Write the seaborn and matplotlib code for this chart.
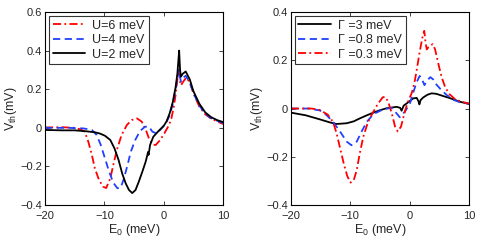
import numpy as np
import pandas as pd
import seaborn as sns
import matplotlib.pyplot as plt

# Left panel: thermovoltage for different U
e_u2 = [-20, -17, -15, -13, -11.6, -10.7, -9.9, -9.0, -8.3, -7.6, -7.0, -6.4, -5.85, -5.3,
        -4.75, -4.2, -3.6, -3.05, -2.75, -2.65, -2.55, -2.45, -2.3, -1.75, -0.9, 0, 0.5, 1.0,
        1.5, 2.0, 2.3, 2.5, 2.6, 2.75, 2.9, 3.2, 3.7, 4.4, 5.0, 6.0, 7.0, 8.0, 9.0, 10]
v_u2 = [-0.011, -0.013, -0.013, -0.018, -0.023, -0.03, -0.041, -0.063, -0.106, -0.167, -0.236,
        -0.288, -0.322, -0.338, -0.322, -0.279, -0.227, -0.176, -0.14, -0.125, -0.14, -0.12,
        -0.089, -0.046, -0.017, 0.01, 0.035, 0.075, 0.13, 0.21, 0.28, 0.36, 0.40, 0.30, 0.265,
        0.28, 0.292, 0.25, 0.19, 0.125, 0.08, 0.055, 0.04, 0.03]

e_u4 = [-20, -16, -13.5, -12.1, -11.3, -10.6, -9.9, -9.2, -8.5, -7.8, -7.25, -6.7, -6.1, -5.55,
        -4.8, -4.0, -3.15, -2.5, -1.9, -1.2, -0.35, 0.5, 1.0, 1.5, 2.0, 2.3, 2.5, 2.7, 2.9,
        3.3, 3.7, 4.4, 5.0, 6.0, 7.0, 8.0, 9.0, 10]
v_u4 = [0.0, 0.0, -0.003, -0.011, -0.037, -0.089, -0.158, -0.227, -0.284, -0.313, -0.31,
        -0.262, -0.193, -0.124, -0.063, -0.017, 0.006, 0.006, -0.02, -0.029, -0.003, 0.032,
        0.065, 0.12, 0.20, 0.26, 0.30, 0.27, 0.24, 0.26, 0.27, 0.235, 0.18, 0.115, 0.073,
        0.05, 0.037, 0.025]

e_u6 = [-20, -17, -15, -14, -13.3, -12.7, -12.1, -11.6, -10.9, -10.2, -9.7, -9.0, -8.5, -7.9,
        -7.1, -6.2, -5.4, -4.5, -3.7, -3.0, -2.5, -1.9, -1.35, -0.6, 0.1, 0.9, 1.3, 1.7, 2.0,
        2.3, 2.5, 2.7, 2.9, 3.3, 3.8, 4.4, 5.0, 6.0, 7.0, 8.0, 9.0, 10]
v_u6 = [0.002, 0.003, 0.0, -0.008, -0.02, -0.072, -0.141, -0.21, -0.27, -0.305, -0.312,
        -0.262, -0.193, -0.115, -0.037, 0.015, 0.04, 0.049, 0.032, -0.011, -0.054, -0.086,
        -0.089, -0.063, -0.029, 0.015, 0.05, 0.11, 0.17, 0.25, 0.30, 0.25, 0.22, 0.24, 0.26,
        0.235, 0.18, 0.11, 0.07, 0.047, 0.033, 0.02]

# Right panel: thermovoltage for different Gamma
e_g3 = [-20, -17.5, -15.1, -13.5, -12.3, -10.6, -9.4, -8.4, -7.2, -6.1, -5, -3.9, -2.2, -1.6,
        -1.35, -1.0, -0.5, 0.6, 1.2, 1.5, 1.65, 1.85, 2.3, 3.0, 3.7, 4.5, 5.5, 6.8, 8.5, 10]
v_g3 = [-0.017, -0.028, -0.045, -0.057, -0.064, -0.061, -0.053, -0.041, -0.028, -0.017,
        -0.007, 0.001, 0.007, 0.003, -0.009, 0.012, 0.021, 0.042, 0.044, 0.03, 0.017, 0.035,
        0.046, 0.057, 0.063, 0.061, 0.053, 0.043, 0.028, 0.019]

e_g08 = [-20, -17, -15.1, -14, -12.9, -11.7, -10.6, -9.8, -8.9, -8.1, -7.2, -6.1, -4.4, -3.0,
         -2.2, -1.65, -0.8, 0.06, 0.6, 1.2, 1.7, 2.0, 2.5, 2.9, 3.5, 4.0, 4.5, 5.4, 6.3, 7.5,
         8.5, 10]
v_g08 = [0.0, 0.0, -0.008, -0.027, -0.055, -0.096, -0.137, -0.152, -0.137, -0.096, -0.055,
         -0.023, -0.003, 0.003, -0.02, -0.036, -0.013, 0.021, 0.065, 0.11, 0.135, 0.125, 0.097,
         0.115, 0.13, 0.12, 0.10, 0.075, 0.055, 0.035, 0.026, 0.02]

e_g03 = [-20, -16.5, -15.1, -13.8, -12.9, -12.3, -11.7, -11.1, -10.5, -9.95, -9.4, -8.9, -8.4,
         -7.8, -7.0, -6.1, -5.3, -4.55, -4.15, -3.6, -3.0, -2.45, -2.0, -1.45, -0.95, -0.4,
         0.34, 0.6, 0.9, 1.2, 1.7, 2.2, 2.47, 2.7, 2.9, 3.2, 3.9, 4.3, 4.8, 5.4, 6.0, 6.7,
         7.5, 8.5, 10]
v_g03 = [0.0, 0.0, -0.006, -0.025, -0.055, -0.103, -0.165, -0.227, -0.28, -0.307, -0.296,
         -0.255, -0.186, -0.117, -0.055, -0.013, 0.021, 0.046, 0.049, 0.028, -0.02, -0.075,
         -0.095, -0.075, -0.027, 0.021, 0.063, 0.085, 0.118, 0.16, 0.235, 0.30, 0.322, 0.27,
         0.245, 0.255, 0.267, 0.245, 0.19, 0.13, 0.088, 0.06, 0.042, 0.03, 0.02]

sns.set_style('ticks')
plt.rcParams['font.family'] = ['Liberation Sans', 'DejaVu Sans']
plt.rcParams['mathtext.fontset'] = 'custom'
plt.rcParams['mathtext.rm'] = 'Liberation Sans'
plt.rcParams['mathtext.it'] = 'Liberation Sans'
plt.rcParams['font.size'] = 8

RED = '#ff0000'
BLUE = '#2040ff'
dashdot = (0, (4.5, 1.8, 1, 1.8))
dashed = (0, (4, 2.5))

fig = plt.figure(figsize=(4.8, 2.45), dpi=100)
ax1 = fig.add_axes([0.09375, 0.163, 0.371, 0.788])
ax2 = fig.add_axes([0.606, 0.163, 0.371, 0.788])

lw = 1.3
sns.lineplot(x=e_u6, y=v_u6, ax=ax1, color=RED, lw=lw, linestyle=dashdot, label='U=6 meV', estimator=None)
sns.lineplot(x=e_u4, y=v_u4, ax=ax1, color=BLUE, lw=lw, linestyle=dashed, label='U=4 meV', estimator=None)
sns.lineplot(x=e_u2, y=v_u2, ax=ax1, color='black', lw=lw, label='U=2 meV', estimator=None)

sns.lineplot(x=e_g3, y=v_g3, ax=ax2, color='black', lw=lw, label='\u0393 =3 meV', estimator=None)
sns.lineplot(x=e_g08, y=v_g08, ax=ax2, color=BLUE, lw=lw, linestyle=dashed, label='\u0393 =0.8 meV', estimator=None)
sns.lineplot(x=e_g03, y=v_g03, ax=ax2, color=RED, lw=lw, linestyle=dashdot, label='\u0393 =0.3 meV', estimator=None)

ax1.set_ylim(-0.4, 0.6)
ax1.set_yticks([-0.4, -0.2, 0, 0.2, 0.4, 0.6])
ax1.set_yticklabels(['\u22120.4', '\u22120.2', '0', '0.2', '0.4', '0.6'])
ax2.set_ylim(-0.4, 0.4)
ax2.set_yticks([-0.4, -0.2, 0, 0.2, 0.4])
ax2.set_yticklabels(['\u22120.4', '\u22120.2', '0', '0.2', '0.4'])

for ax in (ax1, ax2):
    ax.set_xlim(-20, 10)
    ax.set_xticks([-20, -10, 0, 10])
    ax.set_xticklabels(['\u221220', '\u221210', '0', '10'])
    ax.tick_params(direction='in', top=True, right=True, length=3, width=0.6, labelsize=8)
    ax.tick_params(axis='x', pad=4)
    ax.tick_params(axis='y', pad=2)
    for s in ax.spines.values():
        s.set_linewidth(0.8)
        s.set_color('black')
    ax.set_xlabel('E$_0$ (meV)', fontsize=9, labelpad=1)
    ax.set_ylabel('V$_{th}$(mV)', fontsize=9, labelpad=1)
    leg = ax.legend(loc='upper left', fontsize=9, frameon=True, fancybox=False,
                    handlelength=2.6, handletextpad=0.6, borderpad=0.3, labelspacing=0.2,
                    borderaxespad=0.3)
    leg.get_frame().set_edgecolor('black')
    leg.get_frame().set_linewidth(0.8)

fig.savefig('out.png', dpi=100)
